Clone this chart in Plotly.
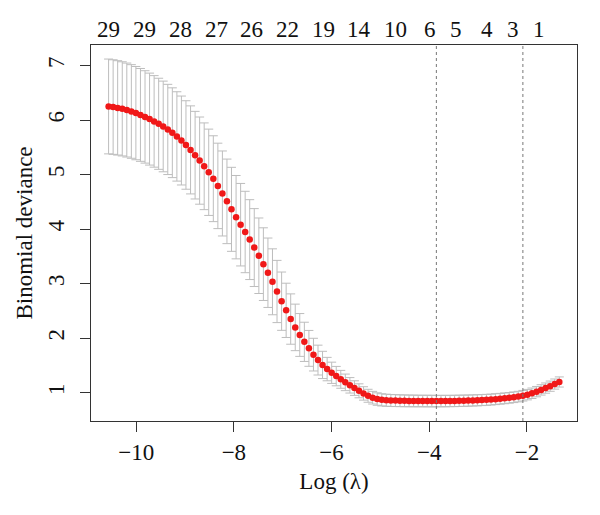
import plotly.graph_objects as go

# log(lambda) grid of the cv.glmnet fit
log_lambda = [
    -10.565, -10.472, -10.379, -10.285, -10.192, -10.099, -10.006, -9.913, -9.819, -9.726,
    -9.633, -9.540, -9.447, -9.353, -9.260, -9.167, -9.074, -8.981, -8.887, -8.794,
    -8.701, -8.608, -8.515, -8.421, -8.328, -8.235, -8.142, -8.049, -7.955, -7.862,
    -7.769, -7.676, -7.583, -7.489, -7.396, -7.303, -7.210, -7.117, -7.023, -6.930,
    -6.837, -6.744, -6.651, -6.557, -6.464, -6.371, -6.278, -6.185, -6.091, -5.998,
    -5.905, -5.812, -5.719, -5.625, -5.532, -5.439, -5.346, -5.253, -5.159, -5.066,
    -4.973, -4.880, -4.787, -4.693, -4.600, -4.507, -4.414, -4.321, -4.227, -4.134,
    -4.041, -3.948, -3.855, -3.761, -3.668, -3.575, -3.482, -3.389, -3.295, -3.202,
    -3.109, -3.016, -2.923, -2.829, -2.736, -2.643, -2.550, -2.457, -2.363, -2.270,
    -2.177, -2.084, -1.991, -1.898, -1.804, -1.711, -1.618, -1.525, -1.432, -1.338,
]

# mean cross-validated binomial deviance
cvm = [
    6.252, 6.241, 6.226, 6.208, 6.186, 6.160, 6.130, 6.097, 6.060, 6.020,
    5.978, 5.934, 5.885, 5.830, 5.770, 5.702, 5.627, 5.545, 5.455, 5.358,
    5.258, 5.154, 5.044, 4.926, 4.794, 4.655, 4.510, 4.364, 4.220, 4.082,
    3.948, 3.808, 3.662, 3.512, 3.358, 3.200, 3.034, 2.856, 2.678, 2.510,
    2.350, 2.197, 2.058, 1.932, 1.812, 1.697, 1.597, 1.508, 1.432, 1.364,
    1.303, 1.244, 1.188, 1.134, 1.083, 1.033, 0.985, 0.942, 0.907, 0.882,
    0.867, 0.860, 0.856, 0.853, 0.851, 0.849, 0.848, 0.847, 0.846, 0.846,
    0.845, 0.845, 0.844, 0.845, 0.845, 0.846, 0.847, 0.849, 0.851, 0.853,
    0.856, 0.859, 0.863, 0.867, 0.872, 0.880, 0.887, 0.895, 0.904, 0.915,
    0.927, 0.943, 0.963, 0.988, 1.018, 1.050, 1.083, 1.118, 1.157, 1.195,
]

# standard error (half length of each error bar)
cvsd = [
    0.870, 0.868, 0.866, 0.864, 0.862, 0.859, 0.856, 0.852, 0.848, 0.844,
    0.840, 0.836, 0.832, 0.828, 0.824, 0.820, 0.816, 0.812, 0.808, 0.804,
    0.800, 0.796, 0.792, 0.788, 0.784, 0.780, 0.776, 0.771, 0.765, 0.757,
    0.747, 0.733, 0.715, 0.693, 0.667, 0.637, 0.605, 0.571, 0.535, 0.498,
    0.462, 0.427, 0.393, 0.360, 0.329, 0.300, 0.274, 0.250, 0.215, 0.195,
    0.178, 0.164, 0.152, 0.142, 0.134, 0.128, 0.123, 0.119, 0.116, 0.114,
    0.112, 0.111, 0.110, 0.109, 0.108, 0.108, 0.107, 0.107, 0.106, 0.106,
    0.106, 0.106, 0.105, 0.105, 0.105, 0.104, 0.104, 0.104, 0.103, 0.103,
    0.102, 0.102, 0.101, 0.101, 0.100, 0.100, 0.099, 0.099, 0.098, 0.098,
    0.097, 0.097, 0.096, 0.096, 0.095, 0.095, 0.094, 0.094, 0.093, 0.093,
]

# number of non-zero coefficients shown on the top axis
top_pos = [-10.571, -9.834, -9.103, -8.366, -7.636, -6.899, -6.170,
           -5.433, -4.688, -3.986, -3.453, -2.813, -2.293, -1.754]
top_labels = ["29", "29", "28", "27", "26", "22", "19",
              "14", "10", "6", "5", "4", "3", "1"]

# lambda.min and lambda.1se
vlines = [-3.855, -2.084]

x_ticks = [-10, -8, -6, -4, -2]
y_ticks = [1, 2, 3, 4, 5, 6, 7]

FONT = "Liberation Serif"
FS = 23

fig = go.Figure()
fig.add_trace(go.Scatter(
    x=log_lambda, y=cvm, mode="markers",
    marker=dict(color="#F01818", size=6.5, line=dict(width=0)),
    error_y=dict(type="data", array=cvsd, symmetric=True,
                 color="#BDBDBD", thickness=1, width=4.5),
    showlegend=False, hoverinfo="skip",
))

for v in vlines:
    fig.add_shape(type="line", xref="x", yref="paper", x0=v, x1=v, y0=0, y1=1,
                  line=dict(color="#777777", width=1, dash="dot"), layer="above")

for p, t in zip(top_pos, top_labels):
    fig.add_annotation(x=p, y=1, xref="x", yref="paper", text=t, showarrow=False,
                       yanchor="middle", xanchor="center", yshift=16,
                       font=dict(family=FONT, size=FS, color="#111111"))

axis_common = dict(
    showgrid=False, zeroline=False, showline=True, mirror=True,
    linecolor="#333333", linewidth=1.2, ticks="outside", ticklen=10,
    tickcolor="#333333", tickwidth=1.2,
    tickfont=dict(family=FONT, size=FS, color="#111111"),
)

fig.update_layout(
    width=600, height=515,
    margin=dict(l=91, r=23, t=45, b=94),
    paper_bgcolor="white", plot_bgcolor="white",
    font=dict(family=FONT, size=FS, color="#111111"),
    xaxis=dict(range=[-10.925, -0.976], tickvals=x_ticks,
               title=dict(text="Log (λ)", font=dict(family=FONT, size=FS), standoff=9),
               **axis_common),
    yaxis=dict(range=[0.479, 7.38], tickvals=y_ticks, tickangle=-90,
               ticklabelstandoff=7,
               title=dict(text="Binomial deviance", font=dict(family=FONT, size=FS), standoff=4),
               **axis_common),
)

fig.write_html("out.html")
